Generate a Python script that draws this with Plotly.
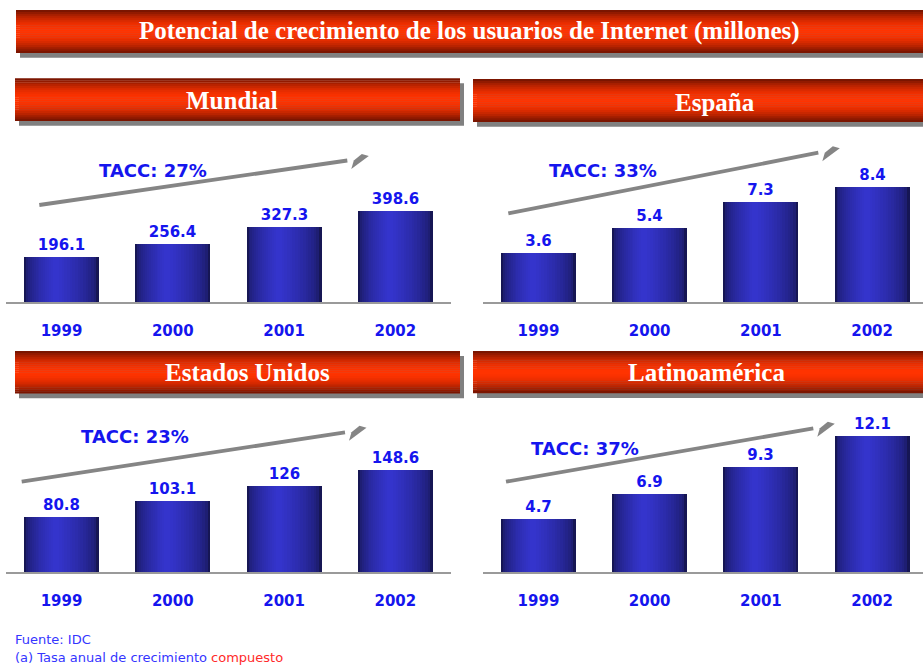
import plotly.graph_objects as go
import math

# ---------------- data ----------------
years = ["1999", "2000", "2001", "2002"]
mundial = [196.1, 256.4, 327.3, 398.6]
espana = [3.6, 5.4, 7.3, 8.4]
eeuu = [80.8, 103.1, 126, 148.6]
latam = [4.7, 6.9, 9.3, 12.1]
panel_titles = ["Mundial", "España", "Estados Unidos", "Latinoamérica"]
tacc_labels = ["TACC: 27%", "TACC: 33%", "TACC: 23%", "TACC: 37%"]
main_title = "Potencial de crecimiento de los usuarios de Internet (millones)"
source_line = "Fuente: IDC"
note_blue = "(a) Tasa anual de crecimiento "
note_red = "compuesto"

series = [mundial, espana, eeuu, latam]

# ---------------- layout geometry (pixels) ----------------
W, H = 923, 666
def px(x):
    return x / W
def py(y):
    return 1 - y / H

# x domain px, x range, y top px, baseline px, pixels per unit
panels = [
    dict(xd=(6, 451), xr=(-0.499, 3.50), top=130, base=302, ppu=0.228),
    dict(xd=(483, 923), xr=(-0.499, 3.458), top=130, base=302, ppu=13.7),
    dict(xd=(6, 451), xr=(-0.499, 3.50), top=400, base=572, ppu=0.686),
    dict(xd=(483, 923), xr=(-0.499, 3.458), top=400, base=572, ppu=11.25),
]

BLUE = "#1515ee"
BAR_W = 0.674
DARK = (22, 22, 84)
BRIGHT = (52, 52, 204)
PEAK = 0.42
NLAYERS = 16

fig = go.Figure()

for i, (vals, p) in enumerate(zip(series, panels)):
    xa = "x" if i == 0 else f"x{i+1}"
    ya = "y" if i == 0 else f"y{i+1}"
    for k in range(NLAYERS):
        t = k / (NLAYERS - 1)
        f = math.sqrt(t)
        col = tuple(int(round(DARK[c] + (BRIGHT[c] - DARK[c]) * f)) for c in range(3))
        left = t * PEAK * 0.92
        right = 1 - t * (1 - PEAK) * 0.92
        fig.add_trace(go.Bar(
            x=years, y=vals, xaxis=xa, yaxis=ya,
            width=(right - left) * BAR_W,
            offset=-BAR_W / 2 + left * BAR_W,
            marker=dict(color="rgb(%d,%d,%d)" % col, line=dict(width=0)),
            text=[f"{v:g}" for v in vals] if k == 0 else None,
            textposition="outside" if k == 0 else "none",
            textfont=dict(family="DejaVu Sans", size=15, color=BLUE, weight="bold"),
            cliponaxis=False,
            hoverinfo="skip",
            showlegend=False,
        ))

layout_axes = {}
for i, p in enumerate(panels):
    xn = "xaxis" if i == 0 else f"xaxis{i+1}"
    yn = "yaxis" if i == 0 else f"yaxis{i+1}"
    ya = "y" if i == 0 else f"y{i+1}"
    xa = "x" if i == 0 else f"x{i+1}"
    h = p["base"] - p["top"]
    layout_axes[xn] = dict(
        domain=[px(p["xd"][0]), px(p["xd"][1])],
        range=list(p["xr"]), anchor=ya, type="category",
        showline=True, linecolor="#9a9a9a", linewidth=2,
        showgrid=False, zeroline=False, ticks="",
        tickfont=dict(family="DejaVu Sans", size=15, color=BLUE, weight="bold"),
        ticklabelstandoff=14, fixedrange=True,
    )
    layout_axes[yn] = dict(
        domain=[py(p["base"]), py(p["top"])],
        range=[0, h / p["ppu"]], anchor=xa,
        visible=False, fixedrange=True,
    )

shapes = []
annotations = []

def banner(x0, y0, x1, y1):
    shapes.append(dict(type="rect", xref="paper", yref="paper",
                       x0=px(x0 + 4), x1=px(x1 + 4), y0=py(y1 + 5), y1=py(y0 + 5),
                       fillcolor="#808080", line=dict(width=0), layer="below"))
    n = 22
    hgt = (y1 - y0) / n
    for s in range(n):
        c = (s + 0.5) / n
        f = math.sin(math.pi * c) ** 0.9
        r = int(round(110 + (255 - 110) * f))
        g = int(round(18 + (51 - 18) * f))
        shapes.append(dict(type="rect", xref="paper", yref="paper",
                           x0=px(x0), x1=px(x1),
                           y0=py(y0 + (s + 1) * hgt + 0.3), y1=py(y0 + s * hgt),
                           fillcolor="rgb(%d,%d,0)" % (r, g), line=dict(width=0), layer="below"))

def banner_text(text, cx, cy):
    annotations.append(dict(text="<b>%s</b>" % text, xref="paper", yref="paper",
                            x=px(cx), y=py(cy), xanchor="center", yanchor="middle",
                            showarrow=False,
                            font=dict(family="Liberation Serif", size=25, color="white")))

banner(16, 10, 940, 52.7)
banner_text(main_title, 469, 31)

banner(15, 78.3, 460, 120.7)
banner(473, 79, 960, 121.7)
banner(15, 351, 460, 393.3)
banner(473, 351, 960, 393)
for t, (cx, cy) in zip(panel_titles, [(232, 101), (714.5, 102.5), (248, 372.5), (706, 372.5)]):
    banner_text(t, cx, cy)

# TACC labels
for t, (cx, cy) in zip(tacc_labels, [(153, 170.5), (603, 170), (135.3, 436.7), (585, 448.8)]):
    annotations.append(dict(text=t, xref="paper", yref="paper", x=px(cx), y=py(cy),
                            xanchor="center", yanchor="middle", showarrow=False,
                            font=dict(family="DejaVu Sans", size=18, color=BLUE, weight="bold")))

# trend arrows (start, end of line)
arrows = [((39.3, 205), (347.3, 160.5)),
          ((508.3, 213.3), (818.3, 152.7)),
          ((21.7, 481.7), (345, 432.3)),
          ((506, 481.7), (813.3, 428.3))]
for (sx, sy), (ex, ey) in arrows:
    shapes.append(dict(type="line", xref="paper", yref="paper",
                       x0=px(sx), y0=py(sy), x1=px(ex), y1=py(ey),
                       line=dict(color="#858585", width=3.8)))
    pts = [(4, 8.5), (6.5, 0), (14.5, -6.5), (21.5, -4.5)]
    path = "M " + " L ".join("%f,%f" % (px(ex + dx), py(ey + dy)) for dx, dy in pts) + " Z"
    shapes.append(dict(type="path", xref="paper", yref="paper", path=path,
                       fillcolor="#858585", line=dict(width=0)))

# footnotes
annotations.append(dict(text=source_line, xref="paper", yref="paper",
                        x=px(13), y=py(639.5), xanchor="left", yanchor="middle", showarrow=False,
                        font=dict(family="DejaVu Sans", size=13, color="#3535ff")))
annotations.append(dict(text=note_blue + "<span style='color:#ff2a2a'>" + note_red + "</span>",
                        xref="paper", yref="paper",
                        x=px(13), y=py(657), xanchor="left", yanchor="middle", showarrow=False,
                        font=dict(family="DejaVu Sans", size=13, color="#3535ff")))

fig.update_layout(
    width=W, height=H,
    margin=dict(l=0, r=0, t=0, b=0),
    paper_bgcolor="white", plot_bgcolor="rgba(0,0,0,0)",
    barmode="overlay", bargap=0,
    shapes=shapes, annotations=annotations,
    showlegend=False,
    **layout_axes,
)

fig.write_html("out.html", config={"displayModeBar": False},
               post_script="document.body.style.margin='0';")
